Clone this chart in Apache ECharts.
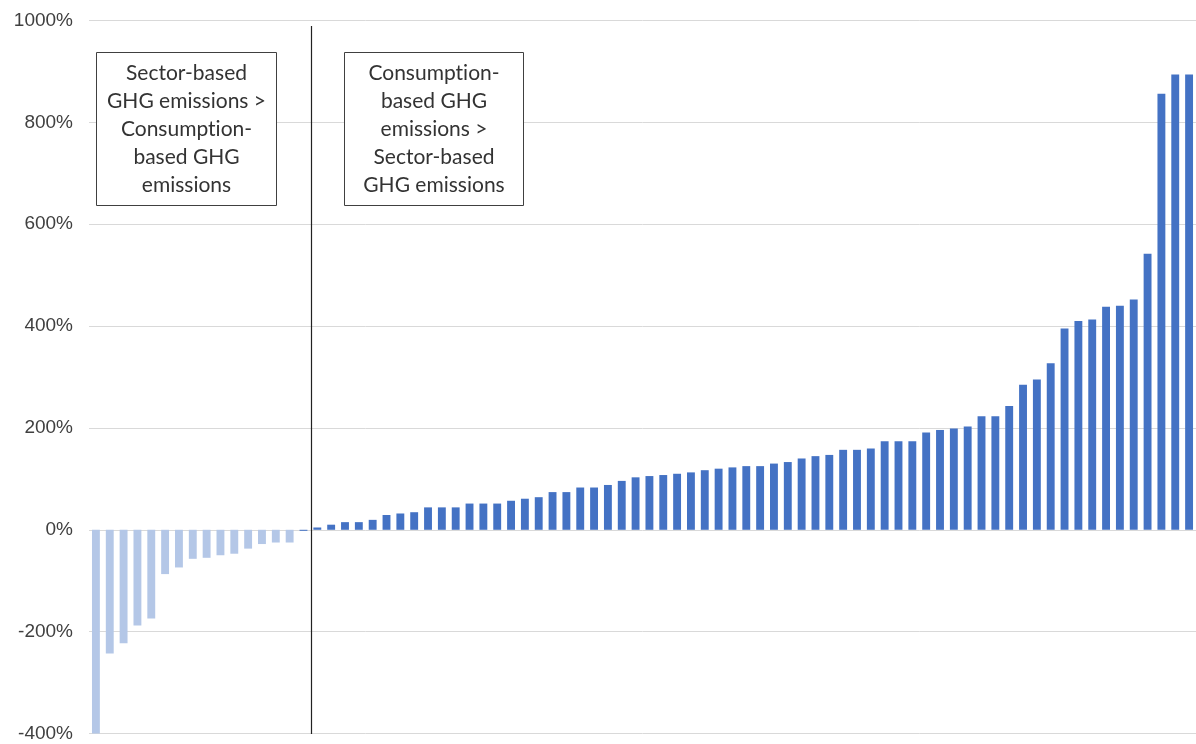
<!DOCTYPE html>
<html>
<head>
<meta charset="utf-8">
<script src="https://cdn.jsdelivr.net/npm/echarts@6/dist/echarts.min.js"></script>
<style>
html,body{margin:0;padding:0;background:#fff;}
#chart{width:1196px;height:744px;}
</style>
</head>
<body>
<div id="chart"></div>
<script>
// Sector-based > consumption-based (light bars), percent difference
const sectorGreater = [-400, -243, -223, -188, -174, -87, -74, -57, -55, -50, -47, -37, -28, -25, -25];
// Consumption-based > sector-based (dark bars), percent difference
const consumptionGreater = [-2, 4.5, 10, 15, 15, 19.5, 29, 32, 34.5, 44, 44, 44, 51.5, 51.5, 51.5, 57, 61, 64, 74, 74, 83, 83,
  88, 96, 103, 105.5, 107.5, 110, 112.7, 117, 120, 122.5, 125, 125, 130, 133, 140, 144.6, 147, 157, 157, 159.6,
  174, 174, 174, 191, 196, 199, 203, 223, 223, 243, 285, 295, 327, 395, 410, 413, 438, 440, 452, 542, 856, 894, 894];
const yTicks = [-400, -200, 0, 200, 400, 600, 800, 1000];
const leftNote = 'Sector-based\nGHG emissions >\nConsumpt\u200Cion-\nbased GHG\nemissions';
const rightNote = 'Consumpt\u200Cion-\nbased GHG\nemissions >\nSector-based\nGHG emissions';

const total = sectorGreater.length + consumptionGreater.length;
const categories = [];
for (let i = 0; i < total; i++) categories.push('Country ' + (i + 1));
const lightData = categories.map((c, i) => i < sectorGreater.length ? sectorGreater[i] : '-');
const darkData = categories.map((c, i) => i < sectorGreater.length ? '-' : consumptionGreater[i - sectorGreater.length]);

const chart = echarts.init(document.getElementById('chart'));
const option = {
  animation: false,
  grid: {left: 89, top: 20.5, width: 1110, height: 713, containLabel: false},
  xAxis: {
    type: 'category', data: categories,
    axisLine: {show: false}, axisTick: {show: false}, axisLabel: {show: false},
    splitLine: {show: false}
  },
  yAxis: {
    type: 'value', min: yTicks[0], max: yTicks[yTicks.length - 1], interval: 200,
    axisLine: {show: false}, axisTick: {show: false},
    axisLabel: {formatter: v => v + '%', color: '#404040', fontSize: 19, fontFamily: 'Liberation Sans', margin: 16},
    splitLine: {lineStyle: {color: '#d9d9d9', width: 1}}
  },
  series: [
    {type: 'bar', data: lightData, barWidth: '57%', barGap: '-100%', itemStyle: {color: '#b4c7e7'}},
    {type: 'bar', data: darkData, barWidth: '57%', barGap: '-100%', itemStyle: {color: '#4472c4'}}
  ]
};
chart.setOption(option);

const xa = chart.convertToPixel({xAxisIndex: 0}, sectorGreater.length);
const xb = chart.convertToPixel({xAxisIndex: 0}, sectorGreater.length + 1);
const divX = Math.round((xa + xb) / 2) + 1.5;
const textStyle = {fontFamily: 'Lato', fontSize: 21, fill: '#333', align: 'center', verticalAlign: 'middle', lineHeight: 28};
chart.setOption({
  graphic: [
    {type: 'line', shape: {x1: divX, y1: 26, x2: divX, y2: 734}, style: {stroke: '#222', lineWidth: 1.2}, z: 100},
    {type: 'rect', shape: {x: 96.5, y: 52.5, width: 180, height: 153}, style: {fill: '#fff', stroke: '#404040', lineWidth: 1}, z: 100},
    {type: 'text', x: 186.5, y: 129, style: Object.assign({text: leftNote}, textStyle), z: 101},
    {type: 'rect', shape: {x: 344.5, y: 52.5, width: 179, height: 153}, style: {fill: '#fff', stroke: '#404040', lineWidth: 1}, z: 100},
    {type: 'text', x: 434, y: 129, style: Object.assign({text: rightNote}, textStyle), z: 101}
  ]
});
</script>
</body>
</html>
